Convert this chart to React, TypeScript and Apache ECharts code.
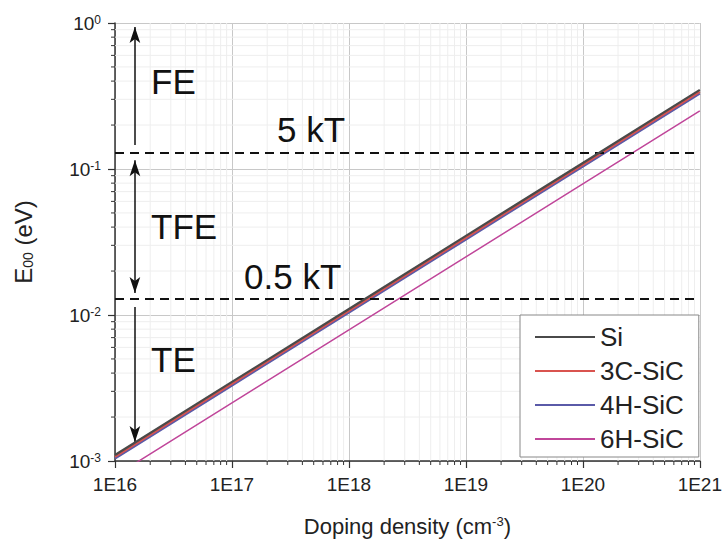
import React, { useEffect, useRef } from 'react';
import * as echarts from 'echarts';

// Doping density (cm^-3) at decade points, and E00 (eV)
const doping = [1e16, 1e17, 1e18, 1e19, 1e20, 1e21];
const eSi = [1.1e-3, 3.48e-3, 1.1e-2, 3.48e-2, 0.11, 0.348];
const e3C = [1.07e-3, 3.38e-3, 1.07e-2, 3.38e-2, 0.107, 0.338];
const e4H = [1.04e-3, 3.29e-3, 1.04e-2, 3.29e-2, 0.104, 0.329];
const e6H = [0.79e-3, 2.5e-3, 0.79e-2, 2.5e-2, 0.079, 0.25];

const seriesNames = ['Si', '3C-SiC', '4H-SiC', '6H-SiC'];
const seriesColors = ['#4a4a4a', '#d9534f', '#5a5aa8', '#c0469a'];
const seriesWidths = [2.2, 2.2, 2.2, 1.5];

const xTickLabels = ['1E16', '1E17', '1E18', '1E19', '1E20', '1E21'];
const levels = [0.129, 0.0129]; // 5 kT, 0.5 kT
const arrowX = 1.48e16;
const arrowFE = [0.146, 0.94];
const arrowTFE = [0.115, 0.01415];
const arrowTE = [0.01135, 0.00135];

const xMin = 1e16, xMax = 1e21, yMin = 1e-3, yMax = 1;

const xMinor: number[] = [];
for (let e = 16; e < 21; e++) for (let m = 2; m <= 9; m++) xMinor.push(m * Math.pow(10, e));
const yMinor: number[] = [];
for (let e = -3; e < 0; e++) for (let m = 2; m <= 9; m++) yMinor.push(m * Math.pow(10, e));

const FONT = '"Liberation Sans", Arial, sans-serif';

export default function App() {
  const ref = useRef<HTMLDivElement>(null);
  useEffect(() => {
    const chart = echarts.init(ref.current!, null, { renderer: 'svg' });
    const dataSets = [eSi, e3C, e4H, e6H];
    const lineSeries = dataSets.map((d, i) => ({
      name: seriesNames[i],
      type: 'line',
      data: doping.map((x, j) => [x, d[j]]),
      symbol: 'none',
      showSymbol: false,
      color: seriesColors[i],
      lineStyle: { color: seriesColors[i], width: seriesWidths[i] },
      z: 5 - i,
    }));
    const solidArrow = { type: 'solid', width: 1.5, color: '#111' };
    const option: any = {
      animation: false,
      textStyle: { fontFamily: FONT },
      grid: { left: 115, right: 25, top: 23, bottom: 83 },
      legend: {
        data: seriesNames,
        orient: 'vertical',
        left: 520,
        top: 315,
        icon: 'rect',
        itemWidth: 60,
        itemHeight: 2,
        itemGap: 6,
        padding: [8, 15, 4, 15],
        borderColor: '#888',
        borderWidth: 1,
        backgroundColor: '#fff',
        textStyle: { fontSize: 26, lineHeight: 28, color: '#222', fontFamily: FONT },
        z: 10,
      },
      xAxis: {
        type: 'log',
        logBase: 10,
        min: xMin,
        max: xMax,
        name: 'Doping density (cm{sup|-3})',
        nameLocation: 'middle',
        nameGap: 54,
        nameTextStyle: {
          fontSize: 22,
          color: '#222',
          fontFamily: FONT,
          rich: { sup: { fontSize: 13, verticalAlign: 'top', color: '#222', fontFamily: FONT } },
        },
        axisLine: { lineStyle: { color: '#333', width: 1.5 } },
        axisTick: { length: 7, lineStyle: { color: '#333', width: 1.2 } },
        axisLabel: {
          margin: 14,
          fontSize: 19,
          color: '#222',
          fontFamily: FONT,
          formatter: (v: number) => xTickLabels[Math.round(Math.log10(v)) - 16] ?? '',
        },
        splitLine: { show: true, lineStyle: { color: '#c8c8c8', width: 1 } },
      },
      yAxis: {
        type: 'log',
        logBase: 10,
        min: yMin,
        max: yMax,
        name: '{m|E}{sub|00}{m| (eV)}',
        nameLocation: 'middle',
        nameGap: 80,
        nameRotate: 90,
        nameTextStyle: {
          rich: {
            m: { fontSize: 24, color: '#222', fontFamily: FONT },
            sub: { fontSize: 14, verticalAlign: 'bottom', color: '#222', fontFamily: FONT },
          },
        },
        axisLine: { show: true, lineStyle: { color: '#333', width: 1.5 } },
        axisTick: { length: 7, lineStyle: { color: '#333', width: 1.2 } },
        axisLabel: {
          margin: 14,
          fontFamily: FONT,
          formatter: (v: number) => `{b|10}{s|${Math.round(Math.log10(v))}}`,
          rich: {
            b: { fontSize: 19, color: '#222', fontFamily: FONT },
            s: { fontSize: 12, verticalAlign: 'top', color: '#222', fontFamily: FONT },
          },
        },
        splitLine: { show: true, lineStyle: { color: '#c8c8c8', width: 1 } },
      },
      series: [
        {
          type: 'custom',
          silent: true,
          z: 1,
          data: xMinor.map((x) => [x, yMin]),
          encode: { x: 0, y: 1 },
          renderItem: (_p: any, api: any) => {
            const x = api.value(0);
            const b = api.coord([x, yMin]);
            const t = api.coord([x, yMax]);
            return {
              type: 'group',
              children: [
                { type: 'line', shape: { x1: b[0], y1: t[1], x2: b[0], y2: b[1] }, style: { stroke: '#eeeeee', lineWidth: 1 } },
                { type: 'line', shape: { x1: b[0], y1: b[1], x2: b[0], y2: b[1] + 4 }, style: { stroke: '#333', lineWidth: 1 } },
              ],
            };
          },
        },
        {
          type: 'custom',
          silent: true,
          z: 1,
          data: yMinor.map((y) => [xMin, y]),
          encode: { x: 0, y: 1 },
          renderItem: (_p: any, api: any) => {
            const y = api.value(1);
            const l = api.coord([xMin, y]);
            const r = api.coord([xMax, y]);
            return {
              type: 'group',
              children: [
                { type: 'line', shape: { x1: l[0], y1: l[1], x2: r[0], y2: l[1] }, style: { stroke: '#eeeeee', lineWidth: 1 } },
                { type: 'line', shape: { x1: l[0] - 4, y1: l[1], x2: l[0], y2: l[1] }, style: { stroke: '#333', lineWidth: 1 } },
              ],
            };
          },
        },
        ...lineSeries,
        {
          type: 'line',
          name: 'annotations',
          data: [],
          silent: true,
          z: 8,
          markLine: {
            silent: true,
            animation: false,
            precision: 8,
            label: { show: false },
            symbol: ['none', 'none'],
            lineStyle: { color: '#111', type: [9, 6], width: 2 },
            data: [
              [{ coord: [xMin, levels[0]] }, { coord: [xMax, levels[0]] }],
              [{ coord: [xMin, levels[1]] }, { coord: [xMax, levels[1]] }],
              [
                { coord: [arrowX, arrowFE[0]], symbol: 'none', lineStyle: solidArrow },
                { coord: [arrowX, arrowFE[1]], symbol: 'arrow', symbolSize: [8, 16] },
              ],
              [
                { coord: [arrowX, arrowTFE[0]], symbol: 'arrow', symbolSize: [8, 16], lineStyle: solidArrow },
                { coord: [arrowX, arrowTFE[1]], symbol: 'arrow', symbolSize: [8, 16] },
              ],
              [
                { coord: [arrowX, arrowTE[0]], symbol: 'none', lineStyle: solidArrow },
                { coord: [arrowX, arrowTE[1]], symbol: 'arrow', symbolSize: [8, 16] },
              ],
            ],
          },
        },
      ],
      graphic: [
        { type: 'text', left: 151, top: 64, z: 20, style: { text: 'FE', fontSize: 35, fill: '#111', fontFamily: FONT } },
        { type: 'text', left: 151, top: 209, z: 20, style: { text: 'TFE', fontSize: 35, fill: '#111', fontFamily: FONT } },
        { type: 'text', left: 151, top: 342, z: 20, style: { text: 'TE', fontSize: 35, fill: '#111', fontFamily: FONT } },
        { type: 'text', left: 277, top: 112, z: 20, style: { text: '5 kT', fontSize: 35, fill: '#111', fontFamily: FONT } },
        { type: 'text', left: 244, top: 259, z: 20, style: { text: '0.5 kT', fontSize: 35, fill: '#111', fontFamily: FONT } },
      ],
    };
    chart.setOption(option);
    return () => chart.dispose();
  }, []);
  return <div ref={ref} style={{ width: 725, height: 544, position: 'absolute', left: 0, top: 0, background: '#fff' }} />;
}
